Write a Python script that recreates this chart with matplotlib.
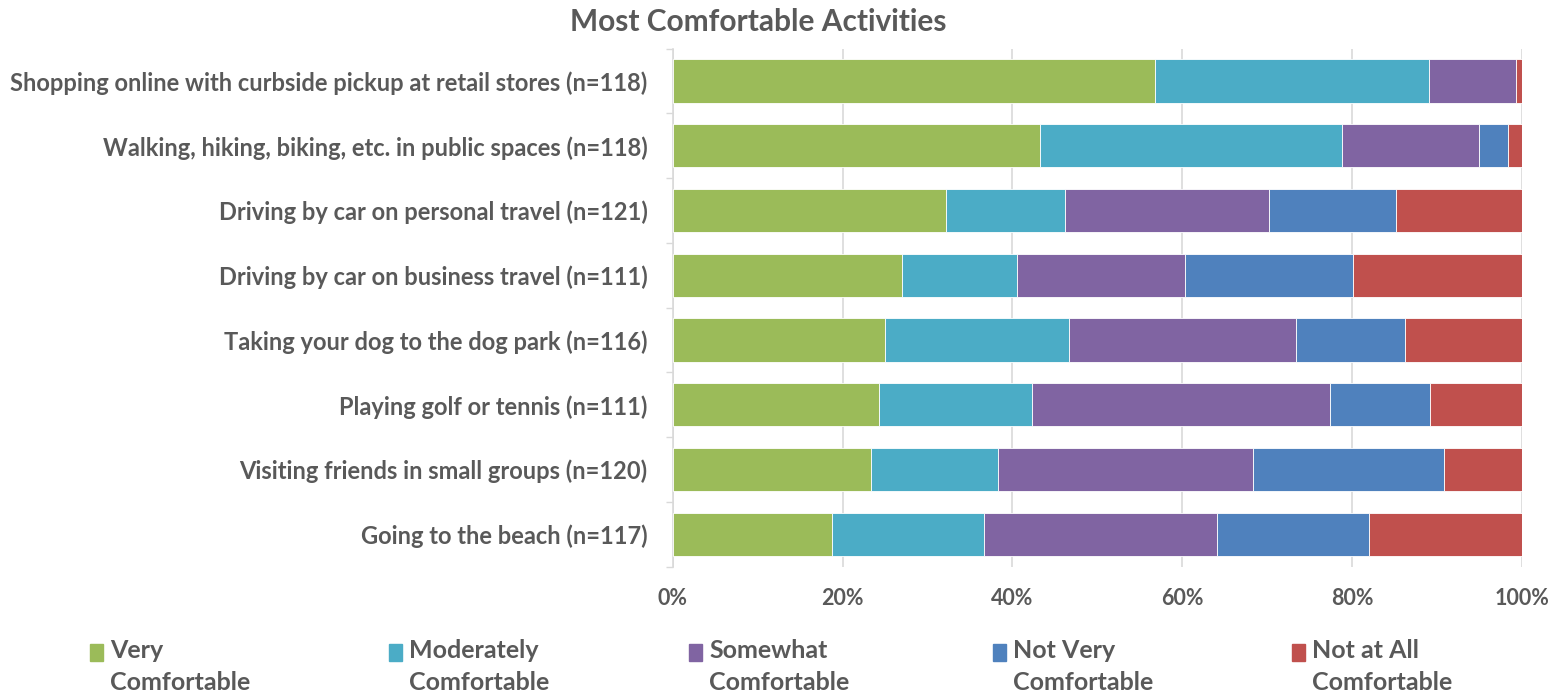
import matplotlib
matplotlib.use('Agg')
import matplotlib.pyplot as plt
from matplotlib.patches import Rectangle
import numpy as np

plt.rcParams['font.family'] = ['Lato', 'DejaVu Sans']
plt.rcParams['font.weight'] = 'bold'

grey_text = '#595959'

activities = ['Shopping online with curbside pickup at retail stores (n=118)',
              'Walking, hiking, biking, etc. in public spaces (n=118)',
              'Driving by car on personal travel (n=121)',
              'Driving by car on business travel (n=111)',
              'Taking your dog to the dog park (n=116)',
              'Playing golf or tennis (n=111)',
              'Visiting friends in small groups (n=120)',
              'Going to the beach (n=117)']

# percent of respondents in each comfort level
very_comf = [56.8, 43.2, 32.2, 27.0, 25.0, 24.3, 23.3, 18.8]
moderately_comf = [32.2, 35.6, 14.0, 13.5, 21.6, 18.0, 15.0, 17.9]
somewhat_comf = [10.2, 16.1, 24.0, 19.8, 26.7, 35.1, 30.0, 27.4]
not_very_comf = [0.0, 3.4, 14.9, 19.8, 12.9, 11.7, 22.5, 17.9]
not_at_all_comf = [0.8, 1.7, 14.9, 19.8, 13.8, 10.8, 9.2, 17.9]

levels = ['Very\nComfortable', 'Moderately\nComfortable', 'Somewhat\nComfortable',
          'Not Very\nComfortable', 'Not at All\nComfortable']
colors = ['#9BBB59', '#4BACC6', '#8064A2', '#4F81BD', '#C0504D']
series = [very_comf, moderately_comf, somewhat_comf, not_very_comf, not_at_all_comf]

fig = plt.figure(figsize=(15.51, 6.94), dpi=100)
ax = fig.add_axes([0.4336, 0.1834, 0.5480, 0.7466])

y = np.arange(len(activities))
left = np.zeros(len(activities))
for vals, c in zip(series, colors):
    vals = np.array(vals)
    ax.barh(y, vals, left=left, height=0.67, color=c, edgecolor='white', linewidth=0.6, zorder=3)
    left += vals

ax.set_ylim(len(activities) - 0.5, -0.5)
ax.set_xlim(0, 100)
ax.set_yticks(y)
ax.set_yticklabels(activities, fontsize=17, color=grey_text, fontweight='bold')
ax.set_yticks(np.arange(len(activities) + 1) - 0.5, minor=True)
ax.tick_params(axis='y', which='major', length=0, pad=18)
ax.tick_params(axis='y', which='minor', length=5, color='#d9d9d9', width=1)

ax.set_xticks([0, 20, 40, 60, 80, 100])
ax.set_xticklabels(['0%', '20%', '40%', '60%', '80%', '100%'], fontsize=15.5, color=grey_text, fontweight='bold')
ax.tick_params(axis='x', length=0, pad=15)
ax.grid(axis='x', color='#d9d9d9', linewidth=1.2, zorder=0)

for s in ['top', 'right', 'bottom']:
    ax.spines[s].set_visible(False)
ax.spines['left'].set_color('#d9d9d9')
ax.spines['left'].set_linewidth(1.2)

fig.text(758 / 1551, 1 - 22 / 694, 'Most Comfortable Activities', ha='center', va='center',
         fontsize=21.5, color=grey_text, fontweight='bold')

# legend row along the bottom
leg_x = [90, 389, 689, 993, 1292]
for lx, lab, c in zip(leg_x, levels, colors):
    fig.add_artist(Rectangle((lx / 1551, 1 - 661 / 694), 13 / 1551, 17 / 694,
                             transform=fig.transFigure, color=c))
    fig.text((lx + 20) / 1551, 1 - 639 / 694, lab, ha='left', va='top', fontsize=18,
             color=grey_text, fontweight='bold', linespacing=1.5)

fig.savefig('out.png', dpi=100)
